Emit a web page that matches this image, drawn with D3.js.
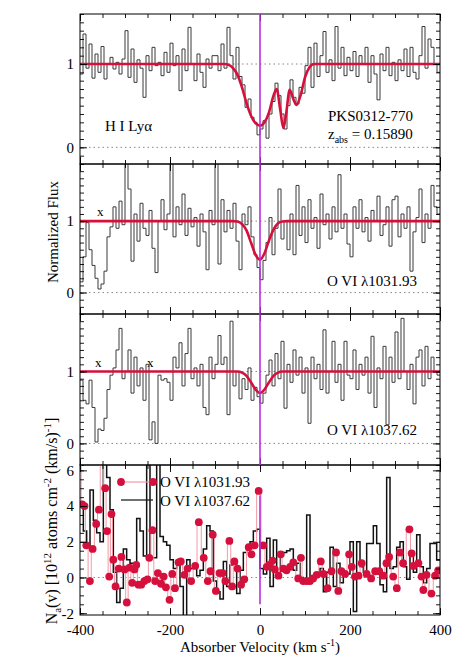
<!DOCTYPE html>
<html><head><meta charset="utf-8">
<script src="https://cdn.jsdelivr.net/npm/d3@7"></script>
<style>
body{margin:0;background:#fff}
svg text{font-family:"Liberation Serif","Times New Roman",Times,serif;fill:#000}
</style>
</head><body>
<svg id="c" width="463" height="667"></svg>
<script>
// ---------------- DATA ----------------
const velRange = [-400, 400];
const xMajorTicks = [-400, -200, 0, 200, 400];
const xMinorTicks = d3.range(-400, 401, 50);

// Panel 1: H I Lyα normalized flux (pixels from -400 km/s, equal width)
const lyaFlux = [
 0.88,1.36,0.95,1.24,0.83,1.12,0.9,1.21,0.82,1.0,1.08,0.94,1.02,0.88,1.06,
 1.4,0.84,1.18,0.78,1.05,0.95,0.6,1.1,0.92,1.2,0.98,1.02,0.86,1.14,0.9,
 1.25,0.98,1.1,0.68,1.18,0.92,1.44,1.0,0.8,1.12,0.9,0.72,1.06,0.95,1.1,
 1.1,0.92,1.24,0.95,1.44,1.1,0.82,1.2,0.85,0.75,0.48,0.58,0.36,0.3,0.15,
 0.22,0.32,0.11,0.4,0.55,0.77,0.62,0.4,0.22,0.5,0.81,0.6,0.52,0.72,0.65,
 0.98,1.2,0.72,1.25,0.85,1.1,1.39,0.9,1.05,0.8,1.45,0.95,1.2,0.86,1.08,
 0.92,1.15,0.85,1.1,1.0,1.2,0.78,1.1,0.88,0.57,1.12,0.92,1.2,0.86,1.02,
 0.8,1.05,0.92,1.18,0.85,1.2,0.9,0.82,1.1,1.45,0.95,1.3,1.2,1.0,0.9
];
const lyaModelVel  = [-400,-90,-80,-70,-60,-50,-40,-30,-20,-10,0,10,20,30,37,45,52,58,66,74,81,90,100,110,120,130,400];
const lyaModelFlux = [1,1,1,0.99,0.95,0.87,0.72,0.53,0.38,0.29,0.26,0.30,0.42,0.62,0.70,0.45,0.23,0.40,0.69,0.58,0.51,0.62,0.84,0.96,1.0,1,1];

// Panel 2: O VI 1031.93
const o1031Flux = [
 0.15,0.5,0.98,0.6,0.38,0.2,0.05,0.12,0.3,0.78,0.92,1.2,0.9,1.28,0.95,
 1.85,1.45,0.44,1.1,0.72,1.25,0.9,0.8,1.15,0.62,0.28,1.0,1.3,0.88,1.1,
 1.85,0.78,1.2,0.95,1.38,0.8,1.18,0.92,1.05,0.65,1.1,0.85,0.32,1.15,0.95,
 1.85,0.4,1.3,0.85,1.15,0.9,1.25,0.72,0.32,1.1,0.95,1.2,0.78,0.53,0.35,
 0.18,0.45,0.7,1.05,0.53,0.9,1.45,0.75,1.0,0.6,1.1,0.53,1.5,0.8,1.2,
 0.7,1.3,0.9,1.05,0.62,1.38,0.95,1.1,0.75,1.2,0.85,1.65,0.9,1.1,0.68,
 0.5,1.2,0.9,1.3,0.85,1.05,0.72,1.15,1.0,1.35,0.8,0.95,1.2,0.65,1.3,
 1.35,0.78,1.1,0.9,1.2,0.3,0.85,1.05,1.45,0.7,1.1,0.9,1.5,1.2,1.1
];
const o1031ModelVel  = [-400,-60,-50,-40,-30,-20,-10,0,10,20,30,40,50,60,400];
const o1031ModelFlux = [1,1,0.995,0.96,0.87,0.70,0.53,0.46,0.55,0.73,0.88,0.97,0.995,1,1];

// Panel 3: O VI 1037.62
const o1037Flux = [
 0.88,0.6,0.55,0.88,0.5,0.02,0.2,0.18,0.35,0.75,0.95,1.05,1.3,1.6,0.9,
 1.0,1.3,0.7,1.2,0.8,1.05,0.6,1.1,0.05,0.3,0.0,0.95,0.88,0.9,0.85,
 0.6,1.2,1.05,1.4,0.8,1.25,1.6,0.9,1.05,0.8,1.1,0.5,0.4,1.2,0.9,
 1.1,1.5,1.1,1.2,0.4,1.7,0.8,1.0,0.62,0.9,0.75,1.05,0.6,0.78,0.65,
 0.56,0.7,0.95,1.16,0.8,1.25,0.9,1.42,0.49,1.1,0.85,1.3,0.95,1.2,0.7,
 1.05,0.28,1.2,0.9,1.1,0.75,1.58,0.7,1.0,1.42,0.85,1.1,0.6,1.42,0.95,
 0.9,1.3,0.75,1.1,0.95,1.2,0.7,1.49,0.5,1.05,0.9,1.35,0.26,1.2,0.85,
 1.55,0.9,1.74,1.0,0.75,1.1,0.55,1.2,1.3,0.8,1.35,0.9,1.2,1.0,0.95
];
const o1037ModelVel  = [-400,-50,-40,-30,-20,-10,0,10,20,30,40,50,400];
const o1037ModelFlux = [1,1,0.985,0.94,0.85,0.75,0.70,0.75,0.85,0.94,0.985,1,1];

// Panel 4: apparent column density N_a(v)
const aodVel1031 = [-400,-395,-390,-386,-378,-372,-364,-358,-352,-344,-340,-335,-330,-326,-321,-314,-308,-301,-296,-290,-284,-279,-275,-270,-264,-257,-250,-246,-239,-233,-227,-220,-214,-209,-201,-195,-189,-181,-176,-168,-161,-153,-144,-136,-125,-116,-110,-105,-98,-90,-83,-77,-68,-62,-57,-50,-42,-35,-25,-19,-12,-3,7,15,21,28,33,41,46,52,59,67,74,85,91,96,104,111,118,126,135,141,150,159,169,174,181,189,198,204,211,219,226,237,247,256,265,274,281,287,296,304,311,318,332,337,341,352,359,363,370,381,389,396];
const aodVal1031 = [6.9,4.1,4.0,1.8,-0.2,1.6,3.0,3.8,6.9,5.0,2.6,0.05,3.55,1.0,-0.5,0.5,1.15,0.45,-1.4,0.55,-0.3,0.45,0.7,-0.4,-0.4,-0.2,-0.1,1.1,2.65,-0.2,0.25,-0.35,0.05,-0.55,-1.25,0.2,-0.6,0.85,0.9,0.15,0.5,-0.2,0.65,3.1,1.1,-0.2,0.35,2.4,-0.75,0.25,0.25,-0.2,2.05,-0.5,0.9,0.5,-0.4,-0.1,1.7,1.3,1.8,4.85,1.8,0.6,0.7,0.95,0.45,0.1,1.3,0.5,0.4,0.6,0.85,-0.05,1.1,-0.2,-0.2,-0.2,-0.05,0.15,0.9,0.2,-0.6,0.35,1.4,-0.75,0.35,0.2,1.3,0.6,0.05,0.1,0.8,0.2,-0.05,0.35,0.35,0.1,0.8,1.15,0.05,-0.6,1.4,0.8,2.7,1.35,0.65,0.8,0.05,-0.7,0.15,-0.9,0.1,0.4];
const aod1037 = [
 4.2,2.6,1.8,4.9,3.2,2.5,2.0,6.8,5.6,3.8,0.3,-1.4,-0.6,1.6,1.0,0.8,0.8,3.3,2.6,1.2,
 6.8,1.1,1.1,6.8,2.3,2.0,1.8,1.0,0.5,0.8,-0.5,-2.2,1.0,0.5,0.7,0.1,0.4,1.6,2.9,2.6,
 -0.2,-0.8,-1.2,0.9,-0.5,0.7,0.9,-0.9,0.4,1.4,1.6,2.0,2.6,2.7,0.5,0.2,2.2,-0.5,2.1,0.1,
 1.2,1.4,1.5,1.6,0.4,0.8,0.0,-0.1,3.5,0.0,0.0,0.2,0.5,-0.8,0.3,1.7,-0.5,0.8,-0.3,0.3,
 0.2,2.0,-1.9,2.0,0.6,0.3,1.9,1.9,2.9,1.9,-0.4,-0.8,5.6,0.5,0.6,1.7,2.0,0.6,-0.1,1.4,
 0.3,2.4,0.6,-0.3,0.5,1.9,1.9,1.0
];

const fluxTickLabels = [0, 1];
const aodTickLabels = [-2, 0, 2, 4, 6];
const lineLabels = ["H I Ly\u03b1", "O VI \u03bb1031.93", "O VI \u03bb1037.62"];

// ---------------- LAYOUT ----------------
const FONT = '"Liberation Serif", "Times New Roman", Times, serif';
const svg = d3.select("#c").attr("font-family", FONT);
const L = 80, R = 440;
const x = d3.scaleLinear().domain(velRange).range([L, R]);
const panels = [
  {top:14,  bot:164, dom:[-0.2,1.6]},
  {top:164, bot:314, dom:[-0.3,1.8]},
  {top:314, bot:465, dom:[-0.3,1.8]},
  {top:465, bot:615, dom:[-2.1,6.3]}
];
panels.forEach(p => p.y = d3.scaleLinear().domain(p.dom).range([p.bot, p.top]));

const RED = "#d5103c", MAG = "#bb2ee0", GREY = "#3a3a3a";

const defs = svg.append("defs");
panels.forEach((p,i) => {
  defs.append("clipPath").attr("id","clip"+i).append("rect")
    .attr("x",L).attr("y",p.top).attr("width",R-L).attr("height",p.bot-p.top);
});

function stepPath(values, y){
  const n = values.length, w = (velRange[1]-velRange[0])/n;
  const pts = values.map((v,i)=>[velRange[0]+i*w, v]);
  pts.push([velRange[1], values[n-1]]);
  return d3.line().x(d=>x(d[0])).y(d=>y(d[1])).curve(d3.curveStepAfter)(pts);
}

function axes(i, yMajor, yMinor, yLabels, xLabels){
  const p = panels[i], y = p.y;
  const g = svg.append("g");
  const fmt = d => String(d);
  g.append("g").attr("transform",`translate(0,${p.bot})`)
    .call(d3.axisBottom(x).tickValues(xMinorTicks).tickSizeInner(-4).tickSizeOuter(0).tickFormat(""));
  g.append("g").attr("transform",`translate(0,${p.bot})`)
    .call(d3.axisBottom(x).tickValues(xMajorTicks).tickSizeInner(-7).tickSizeOuter(0).tickPadding(9)
      .tickFormat(xLabels ? fmt : ""));
  g.append("g").attr("transform",`translate(0,${p.top})`)
    .call(d3.axisTop(x).tickValues(xMinorTicks).tickSizeInner(-4).tickSizeOuter(0).tickFormat(""));
  g.append("g").attr("transform",`translate(0,${p.top})`)
    .call(d3.axisTop(x).tickValues(xMajorTicks).tickSizeInner(-7).tickSizeOuter(0).tickFormat(""));
  g.append("g").attr("transform",`translate(${L},0)`)
    .call(d3.axisLeft(y).tickValues(yMinor).tickSizeInner(-4).tickSizeOuter(0).tickFormat(""));
  g.append("g").attr("transform",`translate(${L},0)`)
    .call(d3.axisLeft(y).tickValues(yMajor).tickSizeInner(-7).tickSizeOuter(0).tickPadding(6)
      .tickFormat(d => yLabels.includes(d) ? fmt(d) : ""));
  g.append("g").attr("transform",`translate(${R},0)`)
    .call(d3.axisRight(y).tickValues(yMinor).tickSizeInner(-4).tickSizeOuter(0).tickFormat(""));
  g.append("g").attr("transform",`translate(${R},0)`)
    .call(d3.axisRight(y).tickValues(yMajor).tickSizeInner(-7).tickSizeOuter(0).tickFormat(""));
  g.selectAll("g").attr("font-family", FONT).attr("font-size", 15);
  g.selectAll(".domain").remove();
  g.selectAll(".tick line").attr("stroke","#000").attr("stroke-width",0.9);
  g.selectAll(".tick text").attr("font-size",15).attr("font-family",FONT);
  svg.append("rect").attr("x",L).attr("y",p.top).attr("width",R-L).attr("height",p.bot-p.top)
    .attr("fill","none").attr("stroke","#000").attr("stroke-width",1);
}

function dotted(i, vals){
  const p = panels[i];
  vals.forEach(v => svg.append("line").attr("x1",L).attr("x2",R)
    .attr("y1",p.y(v)).attr("y2",p.y(v))
    .attr("stroke","#888").attr("stroke-width",1).attr("stroke-dasharray","1.5,3"));
}

// ---------------- FLUX PANELS ----------------
const fluxData = [lyaFlux, o1031Flux, o1037Flux];
const modelVel = [lyaModelVel, o1031ModelVel, o1037ModelVel];
const modelFlux = [lyaModelFlux, o1031ModelFlux, o1037ModelFlux];

for (let i=0;i<3;i++){
  const p = panels[i];
  dotted(i,[0,1]);
  const g = svg.append("g").attr("clip-path",`url(#clip${i})`);
  g.append("path").attr("d", stepPath(fluxData[i], p.y))
    .attr("fill","none").attr("stroke",GREY).attr("stroke-width",1);
  const mpts = modelVel[i].map((v,k)=>[v, modelFlux[i][k]]);
  g.append("path")
    .attr("d", d3.line().x(d=>x(d[0])).y(d=>p.y(d[1])).curve(d3.curveMonotoneX)(mpts))
    .attr("fill","none").attr("stroke",RED).attr("stroke-width",2.6);
  axes(i, [0,1], d3.range(-0.2 - (i>0?0.1:0), p.dom[1]+0.001, 0.1).map(v=>+v.toFixed(2)), fluxTickLabels, false);
}

// ---------------- AOD PANEL ----------------
{
  const p = panels[3];
  dotted(3,[0]);
  const g = svg.append("g").attr("clip-path","url(#clip3)");
  g.append("path").attr("d", stepPath(aod1037, p.y))
    .attr("fill","none").attr("stroke","#111").attr("stroke-width",1.5);
  const pts = aodVel1031.map((v,k)=>[v, aodVal1031[k]]);
  g.append("path").attr("d", d3.line().x(d=>x(d[0])).y(d=>p.y(d[1])).curve(d3.curveStep)(pts))
    .attr("fill","none").attr("stroke","#f29aa6").attr("stroke-width",1);
  g.selectAll("circle.pt").data(pts).join("circle").attr("class","pt")
    .attr("cx",d=>x(d[0])).attr("cy",d=>p.y(d[1])).attr("r",3.9).attr("fill",RED);
  axes(3, [-2,0,2,4,6], d3.range(-2, 6.01, 0.5), aodTickLabels, true);
}

// ---------------- ZERO-VELOCITY LINE ----------------
svg.append("line").attr("x1",x(0)).attr("x2",x(0)).attr("y1",panels[0].top).attr("y2",panels[2].bot)
  .attr("stroke",MAG).attr("stroke-width",1.6);
svg.append("line").attr("x1",x(0)).attr("x2",x(0)).attr("y1",panels[3].y(4.6)).attr("y2",panels[3].y(-1.5))
  .attr("stroke",MAG).attr("stroke-width",1.6);

// ---------------- TEXT ----------------
function txt(xp, yp, s, size, anchor){
  return svg.append("text").attr("x",xp).attr("y",yp).attr("font-size",size||15)
    .attr("font-family",FONT).attr("text-anchor",anchor||"start").text(s);
}
txt(105, 131, lineLabels[0], 15);
txt(328, 121, "PKS0312-770", 15);
{
  const t = svg.append("text").attr("x",328).attr("y",139).attr("font-size",15).attr("font-family",FONT);
  t.append("tspan").text("z");
  t.append("tspan").attr("font-size",10).attr("dy",4).text("abs");
  t.append("tspan").attr("dy",-4).text(" = 0.15890");
}
txt(327, 286, lineLabels[1], 15);
txt(327, 435, lineLabels[2], 15);
txt(97, 216, "x", 13);
txt(95, 367, "x", 13);
txt(147, 367, "x", 13);

// legend
{
  const ly1 = 482, ly2 = 500;
  svg.append("line").attr("x1",121).attr("x2",153).attr("y1",ly1).attr("y2",ly1).attr("stroke","#f29aa6").attr("stroke-width",1.2);
  [121,153].forEach(cx=>svg.append("circle").attr("cx",cx).attr("cy",ly1).attr("r",3.9).attr("fill",RED));
  txt(160, ly1+5, lineLabels[1], 15);
  svg.append("line").attr("x1",121).attr("x2",153).attr("y1",ly2).attr("y2",ly2).attr("stroke","#111").attr("stroke-width",1.2);
  txt(160, ly2+6, lineLabels[2], 15);
}

// axis titles
{
  const t = svg.append("text").attr("x",x(0)).attr("y",652).attr("font-size",15).attr("font-family",FONT).attr("text-anchor","middle");
  t.append("tspan").text("Absorber Velocity (km s");
  t.append("tspan").attr("font-size",10).attr("dy",-6).text("-1");
  t.append("tspan").attr("dy",6).text(")");
}
svg.append("text").attr("transform","translate(58,232) rotate(-90)").attr("font-size",15).attr("font-family",FONT)
  .attr("text-anchor","middle").text("Normalized Flux");
{
  const t = svg.append("text").attr("transform","translate(57,521) rotate(-90)").attr("font-size",16).attr("font-family",FONT)
    .attr("text-anchor","middle");
  t.append("tspan").text("N");
  t.append("tspan").attr("font-size",11).attr("dy",4).text("a");
  t.append("tspan").attr("dy",-4).text("(v) [10");
  t.append("tspan").attr("font-size",11).attr("dy",-6).text("12");
  t.append("tspan").attr("dy",6).text(" atoms cm");
  t.append("tspan").attr("font-size",11).attr("dy",-6).text("-2");
  t.append("tspan").attr("dy",6).text(" (km/s)");
  t.append("tspan").attr("font-size",11).attr("dy",-6).text("-1");
  t.append("tspan").attr("dy",6).text("]");
}
</script>
</body></html>
